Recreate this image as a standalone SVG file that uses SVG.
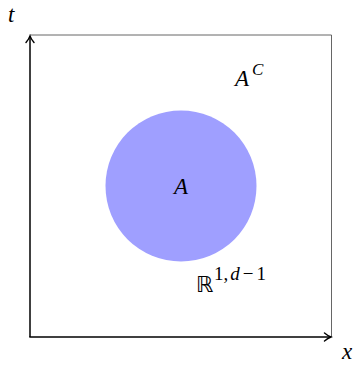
<svg xmlns="http://www.w3.org/2000/svg" width="357" height="365" viewBox="0 0 357 365">
<style>
.it{font-family:"Liberation Serif",serif;font-style:italic;fill:#000}
.rm{font-family:"Liberation Serif",serif;fill:#000}
</style>
<defs>
<marker id="ar" markerWidth="10" markerHeight="10" refX="8" refY="5" orient="auto" markerUnits="userSpaceOnUse">
<path d="M1.5,1 Q5,4 8,5 Q5,6 1.5,9" fill="none" stroke="#000" stroke-width="1.4" stroke-linecap="round"/>
</marker>
</defs>
<rect width="357" height="365" fill="#fff"/>
<g id="region-AC">
<path d="M30,35 H331.5 V337" fill="none" stroke="#555" stroke-width="0.9"/>
<text class="it" x="235" y="86" font-size="23">A</text>
<text class="it" x="252" y="75" font-size="17">C</text>
</g>
<g id="region-A">
<circle cx="181" cy="186" r="75.5" fill="#9f9fff"/>
<text class="it" x="181" y="194" font-size="23" text-anchor="middle">A</text>
</g>
<g id="space-label">
<text x="196" y="292" font-size="22" font-family="DejaVu Sans, sans-serif" fill="#000">ℝ</text>
<text class="rm" x="214" y="280" font-size="19">1,<tspan font-style="italic" dx="2">d</tspan><tspan dx="3">−</tspan><tspan dx="3">1</tspan></text>
</g>
<g id="connectors">
<line x1="30" y1="337" x2="30" y2="36" stroke="#000" stroke-width="1.5" marker-end="url(#ar)"/>
<line x1="29.3" y1="337" x2="331" y2="337" stroke="#000" stroke-width="1.5" marker-end="url(#ar)"/>
</g>
<g id="axis-labels">
<text class="it" x="8" y="22" font-size="23">t</text>
<text class="it" x="342" y="359" font-size="23">x</text>
</g>
</svg>
